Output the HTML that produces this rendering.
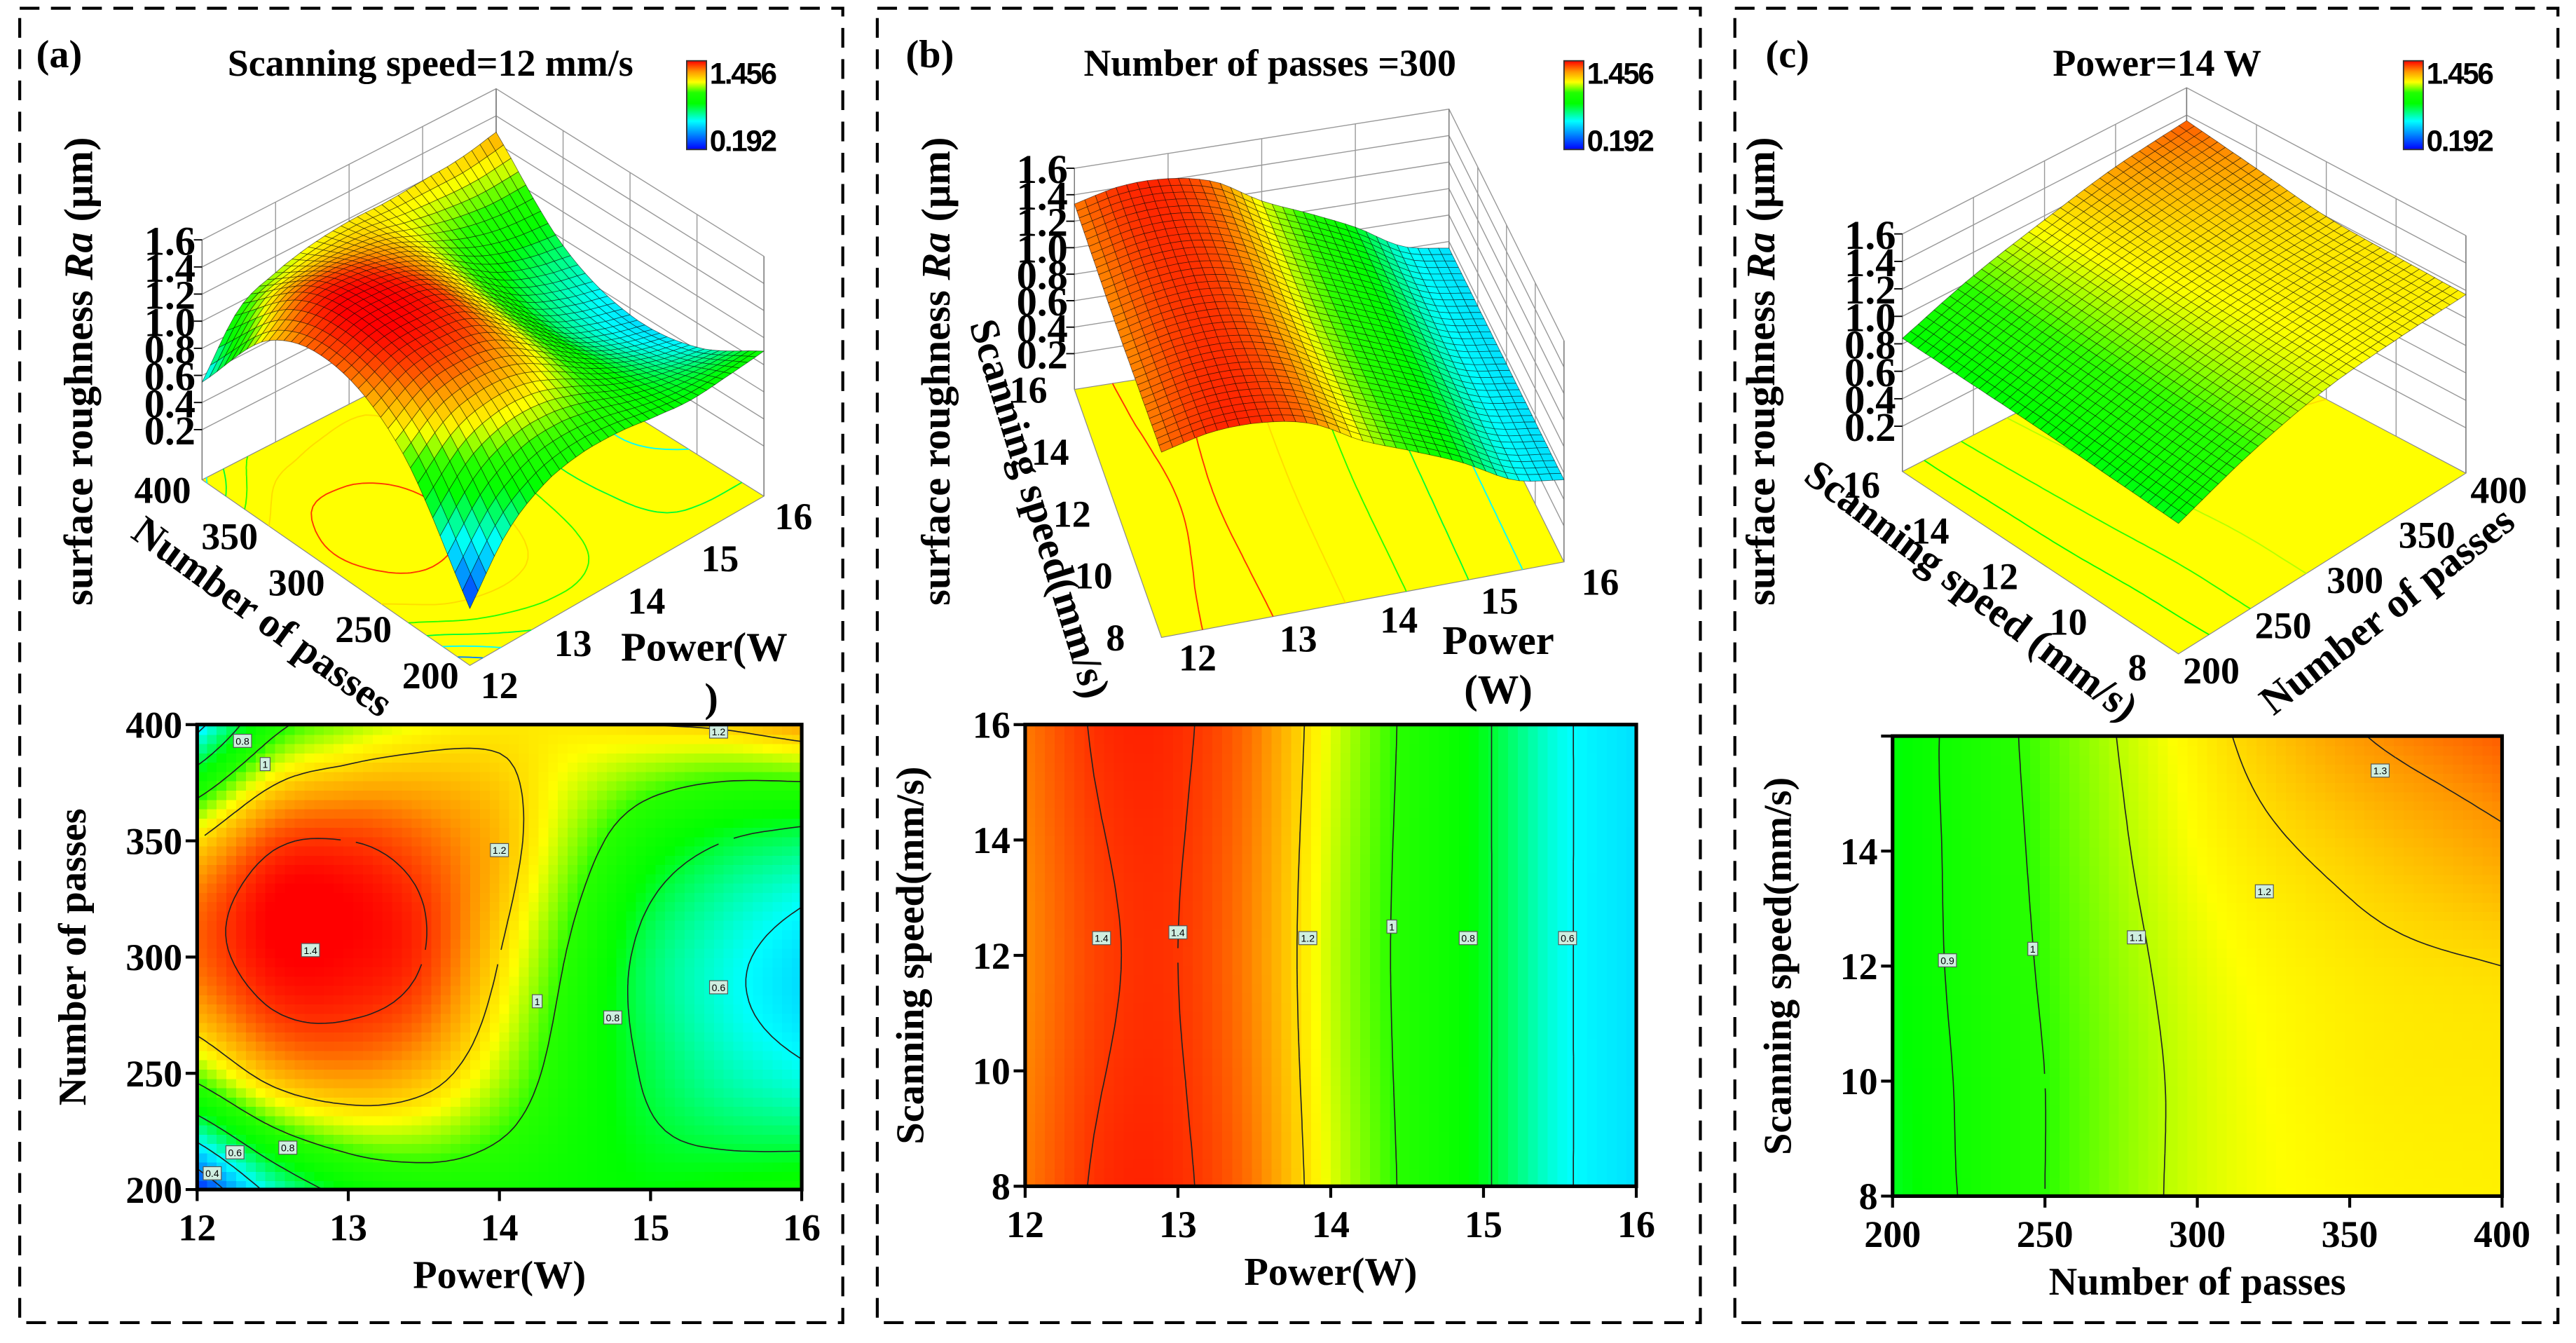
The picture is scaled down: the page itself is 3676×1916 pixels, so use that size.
<!DOCTYPE html>
<html><head><meta charset="utf-8">
<style>
html,body{margin:0;padding:0;background:#fff;}
svg{display:block;}
text{font-family:"Liberation Serif",serif;font-weight:bold;fill:#000;}
.sans{font-family:"Liberation Sans",sans-serif;font-weight:normal;}
.sansb{font-family:"Liberation Sans",sans-serif;font-weight:bold;}
</style></head>
<body>
<svg id="fig" xmlns="http://www.w3.org/2000/svg" width="3676" height="1916" viewBox="0 0 1568 817.4" preserveAspectRatio="none">
<defs>
<linearGradient id="cbar" x1="0" y1="1" x2="0" y2="0">
<stop offset="0" stop-color="#0000ff"/><stop offset="0.32" stop-color="#00ffff"/><stop offset="0.52" stop-color="#00ff00"/><stop offset="0.64" stop-color="#20ff00"/><stop offset="0.76" stop-color="#ffff00"/><stop offset="0.88" stop-color="#ff9600"/><stop offset="1" stop-color="#ff0000"/>
</linearGradient>
</defs>
</svg>
<script>
// ---------- DATA ----------
// Panel (a): Ra vs power (x) and passes (y), speed = 12 mm/s
const aPower=[12,12.5,13,13.5,14,14.5,15,15.5,16];
const aPasses=[200,250,300,350,400];
const aRa=[
 [0.25,0.65,0.85,0.92,0.92,0.88,0.85,0.87,0.90],
 [1.05,1.25,1.30,1.25,1.10,0.92,0.78,0.68,0.62],
 [1.35,1.45,1.45,1.40,1.20,0.97,0.75,0.63,0.55],
 [1.20,1.38,1.40,1.35,1.25,1.07,0.90,0.80,0.75],
 [0.55,0.95,1.08,1.15,1.18,1.18,1.20,1.22,1.28]];
const aLevels=[0.4,0.6,0.8,1.0,1.2,1.4];
const aLabels=[[12.1,207,'0.4'],[12.25,216,'0.6'],[12.6,218,'0.8'],[12.75,303,'1.4'],[14.0,346,'1.2'],[14.25,281,'1'],[14.75,274,'0.8'],[15.45,287,'0.6'],[12.3,393,'0.8'],[12.45,383,'1'],[15.45,397,'1.2']];
// Panel (b): Ra vs power (x) and scanning speed (y), passes = 300
const bPower=[12,12.5,13,13.5,14,14.5,15,15.5,16];
const bSpeed=[8,12,16];
const bRa=[
 [1.33,1.41,1.41,1.33,1.13,0.98,0.82,0.62,0.55],
 [1.31,1.39,1.40,1.31,1.11,0.97,0.82,0.62,0.55],
 [1.33,1.41,1.41,1.33,1.13,0.98,0.82,0.62,0.55]];
const bLevels=[0.6,0.8,1.0,1.2,1.4];
const bLabels=[[12.5,12.3,'1.4'],[13.0,12.4,'1.4'],[13.85,12.3,'1.2'],[14.4,12.5,'1'],[14.9,12.3,'0.8'],[15.55,12.3,'0.6']];
// Panel (c): Ra vs passes (x) and scanning speed (y), power = 14 W
const cPasses=[200,250,300,350,400];
const cSpeed=[8,10,12,14,16];
const cRa=[
 [0.82,1.00,1.12,1.16,1.17],
 [0.83,1.00,1.12,1.17,1.18],
 [0.84,1.01,1.13,1.18,1.20],
 [0.84,1.02,1.15,1.22,1.28],
 [0.84,1.03,1.17,1.29,1.36]];
const cLevels=[0.9,1.0,1.1,1.2,1.3];
const cLabels=[[218,12.1,'0.9'],[246,12.3,'1'],[280,12.5,'1.1'],[322,13.3,'1.2'],[360,15.4,'1.3']];
const zTicks=[0.2,0.4,0.6,0.8,1.0,1.2,1.4,1.6];

// ---------- HELPERS ----------
const NS='http://www.w3.org/2000/svg';
const svg=document.getElementById('fig');
function mk(tag,attrs,parent){const e=document.createElementNS(NS,tag);for(const k in attrs)e.setAttribute(k,attrs[k]);(parent||svg).appendChild(e);return e;}
function txt(s,x,y,size,opts,parent){const o=Object.assign({x:x,y:y,'font-size':size},opts||{});const t=mk('text',o,parent);t.textContent=s;return t;}
const cstops=[[0.192,[0,0,255]],[0.6,[0,255,255]],[0.85,[0,255,0]],[1.0,[40,255,0]],[1.15,[255,255,0]],[1.3,[255,150,0]],[1.456,[255,0,0]]];
function color(v){
 if(v<=cstops[0][0])return 'rgb(0,0,255)';
 for(let k=1;k<cstops.length;k++){if(v<=cstops[k][0]){const a=cstops[k-1],b=cstops[k];const t=(v-a[0])/(b[0]-a[0]);
  const c=a[1].map((q,i)=>Math.round(q+(b[1][i]-q)*t));return 'rgb('+c.join(',')+')';}}
 return 'rgb(255,0,0)';
}
function sampler(xs,ys,Z){
 function cr(p0,p1,p2,p3,t){return 0.5*((2*p1)+(-p0+p2)*t+(2*p0-5*p1+4*p2-p3)*t*t+(-p0+3*p1-3*p2+p3)*t*t*t);}
 const nx=xs.length,ny=ys.length;
 const g=(a,b)=>{const ia=Math.max(0,Math.min(nx-1,a)),ib=Math.max(0,Math.min(ny-1,b));
  let v=Z[ib][ia];
  if(a<0)v=2*Z[ib][0]-Z[ib][Math.min(1,nx-1)];if(a>nx-1)v=2*Z[ib][nx-1]-Z[ib][nx-2];
  if(b<0)v=2*Z[0][ia]-Z[Math.min(1,ny-1)][ia];if(b>ny-1)v=2*Z[ny-1][ia]-Z[ny-2][ia];return v;};
 return function(x,y){
  const fi=(x-xs[0])/(xs[nx-1]-xs[0])*(nx-1), fj=(y-ys[0])/(ys[ny-1]-ys[0])*(ny-1);
  let i=Math.max(0,Math.min(nx-2,Math.floor(fi))), j=Math.max(0,Math.min(ny-2,Math.floor(fj)));
  const tx=fi-i,ty=fj-j;const rows=[];
  for(let b=j-1;b<=j+2;b++)rows.push(cr(g(i-1,b),g(i,b),g(i+1,b),g(i+2,b),tx));
  return cr(rows[0],rows[1],rows[2],rows[3],ty);
 };
}
function contourSegs(f,x0,x1,y0,y1,nx,ny,L){
 const V=[];for(let j=0;j<=ny;j++){V.push([]);for(let i=0;i<=nx;i++)V[j].push(f(x0+(x1-x0)*i/nx,y0+(y1-y0)*j/ny));}
 const segs=[];const X=i=>x0+(x1-x0)*i/nx, Y=j=>y0+(y1-y0)*j/ny;
 for(let j=0;j<ny;j++)for(let i=0;i<nx;i++){
  const c=[[i,j],[i+1,j],[i+1,j+1],[i,j+1]];const pts=[];
  for(let e=0;e<4;e++){const p=c[e],q=c[(e+1)%4];const vp=V[p[1]][p[0]],vq=V[q[1]][q[0]];
   if((vp-L)*(vq-L)<0){const t=(L-vp)/(vq-vp);pts.push([X(p[0]+(q[0]-p[0])*t),Y(p[1]+(q[1]-p[1])*t)]);}}
  if(pts.length>=2)segs.push([pts[0],pts[1]]);if(pts.length===4)segs.push([pts[2],pts[3]]);
 }
 return segs;
}

// ---------- 2D HEATMAP ----------
function heatmap(cfg){
 const g=mk('g',{});
 
 
 const f=sampler(cfg.xs,cfg.ys,cfg.Z);
 const sx=v=>cfg.L+(v-cfg.x0)/(cfg.x1-cfg.x0)*(cfg.R-cfg.L);
 const sy=v=>cfg.B-(v-cfg.y0)/(cfg.y1-cfg.y0)*(cfg.B-cfg.T);
 const NX=62,NY=50;const cw=(cfg.R-cfg.L)/NX,ch=(cfg.B-cfg.T)/NY;
 const cells=mk('g',{'shape-rendering':'crispEdges'},g);
 
 
 for(let j=0;j<NY;j++)for(let i=0;i<NX;i++){
  const xv=cfg.x0+(cfg.x1-cfg.x0)*(i+0.5)/NX, yv=cfg.y0+(cfg.y1-cfg.y0)*(j+0.5)/NY;
  const r=mk('rect',{x:(cfg.L+i*cw).toFixed(2),y:(cfg.B-(j+1)*ch).toFixed(2),width:(cw+0.6).toFixed(2),height:(ch+0.6).toFixed(2),fill:color(f(xv,yv))},cells);
  
  
 }
 cfg.levels.forEach(L=>{
  const segs=contourSegs(f,cfg.x0,cfg.x1,cfg.y0,cfg.y1,80,64,L);
  let d='';segs.forEach(s=>{d+='M'+sx(s[0][0]).toFixed(1)+' '+sy(s[0][1]).toFixed(1)+'L'+sx(s[1][0]).toFixed(1)+' '+sy(s[1][1]).toFixed(1);});
  const p=mk('path',{d:d,stroke:'#222',fill:'none','stroke-width':0.7},g);
  
  
 });
 cfg.labels.forEach(l=>{
  const lg=mk('g',{},g);
  
  
  const w=l[2].length>1?11:6;
  mk('rect',{x:sx(l[0])-w/2,y:sy(l[1])-4,width:w,height:8,fill:'#cfeee0',stroke:'#555','stroke-width':0.5},lg);
  txt(l[2],sx(l[0]),sy(l[1])+2.3,6,{'text-anchor':'middle',class:'sans',fill:'#333'},lg);
 });
 const fr=mk('rect',{x:cfg.L,y:cfg.T,width:cfg.R-cfg.L,height:cfg.B-cfg.T,fill:'none',stroke:'#000','stroke-width':2.2},g);
 
 
 cfg.xticks.forEach(v=>{
  mk('line',{x1:sx(v),x2:sx(v),y1:cfg.B,y2:cfg.B+7,stroke:'#000','stroke-width':1.8},g);
  const t=txt(String(v),sx(v),cfg.B+31,23,{'text-anchor':'middle'},g);
  
  
 });
 cfg.yticks.forEach(v=>{
  mk('line',{x1:cfg.L-7,x2:cfg.L,y1:sy(v),y2:sy(v),stroke:'#000','stroke-width':1.8},g);
  if(cfg.ylab.indexOf(v)>=0){const t=txt(String(v),cfg.L-9,sy(v)+8,23,{'text-anchor':'end'},g);
  
  }
 });
 const xt=txt(cfg.xtitle,(cfg.L+cfg.R)/2,cfg.B+60,24,{'text-anchor':'middle'},g);
 
 
 const yt=txt(cfg.ytitle,0,0,24,{'text-anchor':'middle',transform:'translate('+cfg.ytx+','+((cfg.T+cfg.B)/2)+') rotate(-90)'},g);
 
 
}

// ---------- 3D SURFACE ----------
function surface(cfg){
 const g=mk('g',{});
 
 
 const f=sampler(cfg.xs,cfg.ys,cfg.Z);
 const P=cfg.P;
 const proj=(u,v,z)=>{const x=(1-u)*(1-v)*P[0][0]+u*(1-v)*P[1][0]+(1-u)*v*P[2][0]+u*v*P[3][0];
  const y=(1-u)*(1-v)*P[0][1]+u*(1-v)*P[1][1]+(1-u)*v*P[2][1]+u*v*P[3][1];return [x,y-(z-cfg.zf)*cfg.zs];};
 const X=u=>cfg.x0+(cfg.x1-cfg.x0)*u, Y=v=>cfg.y0+(cfg.y1-cfg.y0)*v;
 const pt=p=>p[0].toFixed(1)+','+p[1].toFixed(1);
 const walls=mk('g',{stroke:'#999','stroke-width':0.6,fill:'none'},g);
 
 
 zTicks.forEach(z=>{
  const a=proj(0,1,z),b=proj(1,1,z),c=proj(1,0,z);
  mk('polyline',{points:pt(a)+' '+pt(b)+' '+pt(c)},walls);
 });
 cfg.xticks.forEach(xv=>{const u=(xv-cfg.x0)/(cfg.x1-cfg.x0);const a=proj(u,1,cfg.zf),b=proj(u,1,1.6);mk('line',{x1:a[0],y1:a[1],x2:b[0],y2:b[1]},walls);});
 cfg.yticks.forEach(yv=>{const v=(yv-cfg.y0)/(cfg.y1-cfg.y0);const a=proj(1,v,cfg.zf),b=proj(1,v,1.6);mk('line',{x1:a[0],y1:a[1],x2:b[0],y2:b[1]},walls);});
 [[0,1],[1,1],[1,0]].forEach(c=>{const a=proj(c[0],c[1],cfg.zf),b=proj(c[0],c[1],1.6);mk('line',{x1:a[0],y1:a[1],x2:b[0],y2:b[1],stroke:'#777'},walls);});
 const fl=mk('polygon',{points:[proj(0,0,cfg.zf),proj(1,0,cfg.zf),proj(1,1,cfg.zf),proj(0,1,cfg.zf)].map(pt).join(' '),fill:'#ffff00',stroke:'#888','stroke-width':0.5},g);
 
 
 cfg.levels.forEach(L=>{
  const segs=contourSegs(f,cfg.x0,cfg.x1,cfg.y0,cfg.y1,50,50,L);let d='';
  segs.forEach(s=>{const a=proj((s[0][0]-cfg.x0)/(cfg.x1-cfg.x0),(s[0][1]-cfg.y0)/(cfg.y1-cfg.y0),cfg.zf),b=proj((s[1][0]-cfg.x0)/(cfg.x1-cfg.x0),(s[1][1]-cfg.y0)/(cfg.y1-cfg.y0),cfg.zf);d+='M'+pt(a)+'L'+pt(b);});
  const p=mk('path',{d:d,stroke:color(L),fill:'none','stroke-width':0.8},g);
  
  
 });
 const N=36;const mesh=mk('g',{stroke:'rgba(0,0,0,0.55)','stroke-width':0.35,'stroke-linejoin':'round'},g);
 
 
 const Zs=[];for(let j=0;j<=N;j++){Zs.push([]);for(let i=0;i<=N;i++)Zs[j].push(f(X(i/N),Y(j/N)));}
 for(let s=2*(N-1);s>=0;s--){for(let i=0;i<N;i++){const j=s-i;if(j<0||j>=N)continue;
  const q=[[i,j],[i+1,j],[i+1,j+1],[i,j+1]];
  const avg=(Zs[j][i]+Zs[j][i+1]+Zs[j+1][i+1]+Zs[j+1][i])/4;
  const poly=mk('polygon',{points:q.map(c=>pt(proj(c[0]/N,c[1]/N,Zs[c[1]][c[0]]))).join(' '),fill:color(avg)},mesh);
  
  
 }}
 zTicks.forEach(z=>{const a=proj(0,1,z);
  mk('line',{x1:a[0]-5,y1:a[1],x2:a[0],y2:a[1],stroke:'#000','stroke-width':0.8},g);
  const t=txt(z.toFixed(1),a[0]-4,a[1]+9,25,{'text-anchor':'end'},g);
  
  });
 cfg.xticks.forEach(xv=>{const u=(xv-cfg.x0)/(cfg.x1-cfg.x0);const a=proj(u,0,cfg.zf);
  const t=txt(String(xv),a[0]+cfg.xoff[0],a[1]+cfg.xoff[1]+8,23,{'text-anchor':'middle'},g);
  
  });
 cfg.yticks.forEach(yv=>{const v=(yv-cfg.y0)/(cfg.y1-cfg.y0);const a=proj(0,v,cfg.zf);
  const t=txt(String(yv),a[0]+cfg.yoff[0],a[1]+cfg.yoff[1]+8,23,{'text-anchor':'middle'},g);
  
  });
 const rt=txt('',0,0,25,{'text-anchor':'middle',transform:'translate('+cfg.raX+',226) rotate(-90)'},g);
 
 
 rt.appendChild(document.createTextNode('surface roughness '));
 const it=mk('tspan',{'font-style':'italic'},rt);it.textContent='Ra';
 rt.appendChild(document.createTextNode(' (μm)'));
}

function panelFrame(x,name){const r=mk('rect',{x:x,y:5,width:501,height:800,fill:'none',stroke:'#000','stroke-width':1.8,'stroke-dasharray':'12 7'});
 
 }
function colorbar(x,name){const g=mk('g',{});
 
 
 mk('rect',{x:x,y:37,width:12,height:54,fill:'url(#cbar)',stroke:'#333','stroke-width':0.8},g);
 txt('1.456',x+14,51,18,{class:'sansb',fill:'#e01010','letter-spacing':'-1'},g);
 txt('0.192',x+14,92,18,{class:'sansb',fill:'#1020c0','letter-spacing':'-1'},g);}
function label(s,x,y,size,rot,name,anchor){const t=txt(s,0,0,size,{'text-anchor':anchor||'middle',transform:'translate('+x+','+y+') rotate('+(rot||0)+')'});
 
 return t;}

// ---------- BUILD ----------
panelFrame(12,'panel-a-frame');panelFrame(534,'panel-b-frame');panelFrame(1056,'panel-c-frame');

surface({name:'surface-a',xs:aPower,ys:aPasses,Z:aRa,x0:12,x1:16,y0:200,y1:400,
 P:[[286,405],[465,302],[123,292],[302,200]],zs:82.5,zf:-0.17,levels:aLevels,
 xticks:[12,13,14,15,16],yticks:[200,250,300,350,400],xoff:[18,12],yoff:[-24,6],raX:56});
surface({name:'surface-b',xs:bPower,ys:bSpeed,Z:bRa,x0:12,x1:16,y0:8,y1:16,
 P:[[707,388],[952,342],[654,237],[882,201]],zs:80.6,zf:-0.07,levels:bLevels,
 xticks:[12,13,14,15,16],yticks:[8,10,12,14,16],xoff:[22,12],yoff:[-28,0],raX:578});
surface({name:'surface-c',xs:cPasses,ys:cSpeed,Z:cRa,x0:200,x1:400,y0:8,y1:16,
 P:[[1326,398],[1501,288],[1158,287],[1331,198]],zs:83.6,zf:-0.13,levels:cLevels,
 xticks:[200,250,300,350,400],yticks:[8,10,12,14,16],xoff:[20,10],yoff:[-25,8],raX:1080});

heatmap({name:'heatmap-a',xs:aPower,ys:aPasses,Z:aRa,x0:12,x1:16,y0:200,y1:400,L:120,R:488,T:441,B:724,
 levels:aLevels,labels:aLabels,xticks:[12,13,14,15,16],yticks:[200,250,300,350,400],ylab:[200,250,300,350,400],
 xtitle:'Power(W)',ytitle:'Number of passes',ytx:52});
heatmap({name:'heatmap-b',xs:bPower,ys:bSpeed,Z:bRa,x0:12,x1:16,y0:8,y1:16,L:624,R:996,T:441,B:722,
 levels:bLevels,labels:bLabels,xticks:[12,13,14,15,16],yticks:[8,10,12,14,16],ylab:[8,10,12,14,16],
 xtitle:'Power(W)',ytitle:'Scanning speed(mm/s)',ytx:562});
heatmap({name:'heatmap-c',xs:cPasses,ys:cSpeed,Z:cRa,x0:200,x1:400,y0:8,y1:16,L:1152,R:1523,T:448,B:728,
 levels:cLevels,labels:cLabels,xticks:[200,250,300,350,400],yticks:[8,10,12,14,16],ylab:[8,10,12,14],
 xtitle:'Number of passes',ytitle:'Scanning speed(mm/s)',ytx:1090});

colorbar(418,'colorbar-a');colorbar(952,'colorbar-b');colorbar(1463,'colorbar-c');
label('(a)',36,41,24,0,'panel-a-label');label('(b)',566,41,24,0,'panel-b-label');label('(c)',1088,41,24,0,'panel-c-label');
label('Scanning speed=12 mm/s',262,46,23,0,'panel-a-title');
label('Number of passes =300',773,46,23,0,'panel-b-title');
label('Power=14 W',1313,46,23,0,'panel-c-title');
label('Number of passes',155,382,25,36,'axis-title-passes-a');
label('Power(W',378,402,25,0,'axis-title-power-a','start');
label(')',433,433,25,0,'axis-title-power-a-close');
label('Scanning speed(mm/s)',625,312,25,73,'axis-title-speed-b');
label('Power',912,398,25,0,'axis-title-power-b');
label('(W)',912,428,25,0,'axis-title-power-b-unit');
label('Scanning speed (mm/s)',1195,366,25,37,'axis-title-speed-c');
label('Number of passes',1458,378,25,-38,'axis-title-passes-c');
</script>
</body></html>
